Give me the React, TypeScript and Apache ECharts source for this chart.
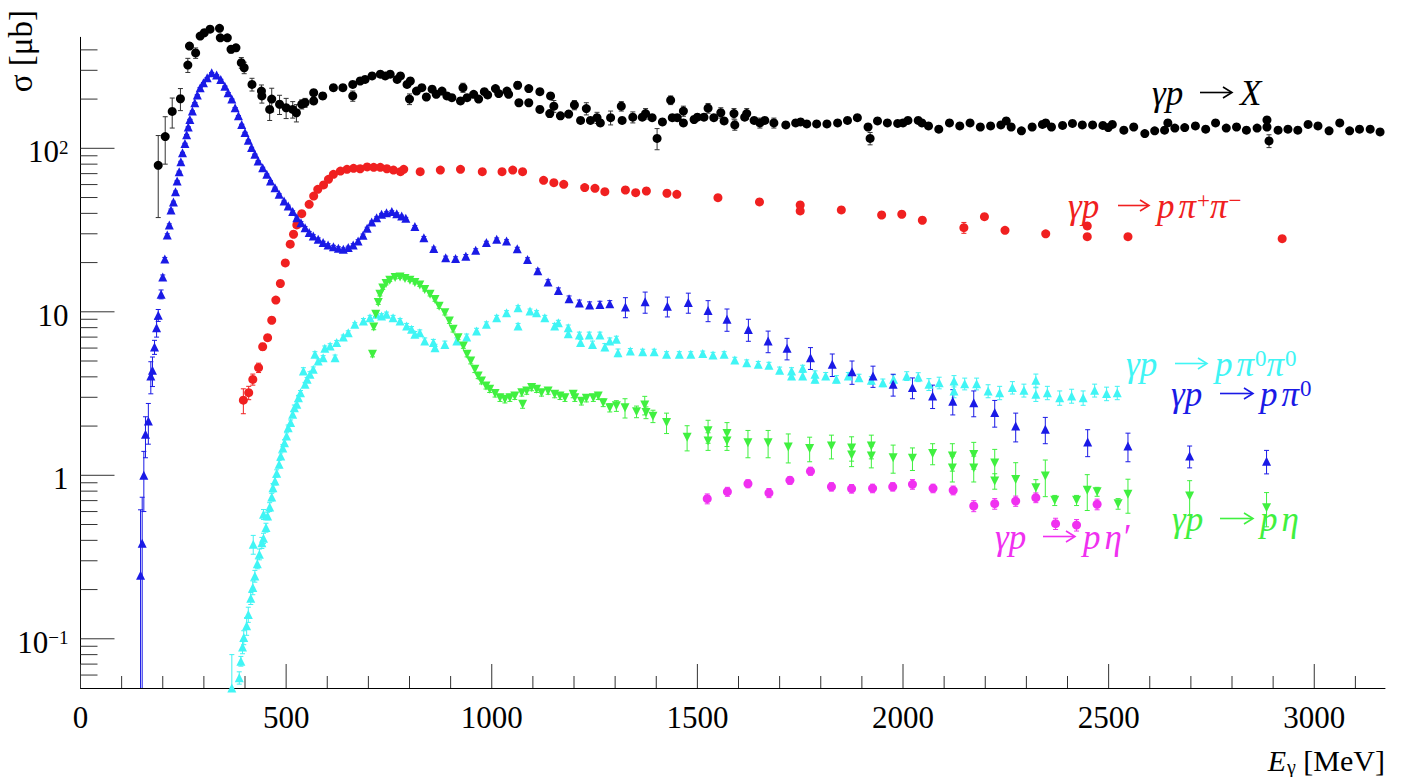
import React, { useEffect, useRef } from 'react';
import * as echarts from 'echarts';

// ---------- axis ranges & ticks ----------
const X_MIN = 0;
const X_MAX = 3172;
const Y_MIN = 0.05;
const Y_MAX = 650;
const Y_AXIS_TOP = 480;

const xMajorTicks = [0, 500, 1000, 1500, 2000, 2500, 3000];
const xMinorTicks = [100, 200, 300, 400, 600, 700, 800, 900, 1100, 1200, 1300, 1400, 1600, 1700, 1800, 1900, 2100, 2200, 2300, 2400, 2600, 2700, 2800, 2900, 3100];
const yMajorTicks = [0.1, 1, 10, 100];
const yMinorTicks = [0.06, 0.07, 0.08, 0.09, 0.2, 0.3, 0.4, 0.5, 0.6, 0.7, 0.8, 0.9, 2, 3, 4, 5, 6, 7, 8, 9, 20, 30, 40, 50, 60, 70, 80, 90, 200, 300, 400];
const yLabelValues = [0.1, 1, 10, 100];
const yLabelBase = ['10', '1', '10', '10'];
const yLabelSup = ['−1', '', '', '2'];

// ---------- data: [E_gamma (MeV), sigma (µb), error (µb)] ----------
const totalX = [
  [189, 78.7, 41], [206, 118, 38], [223, 168, 35], [243, 201, 31], [261, 323, 32], [265, 422, 20], [280, 383, 28], [291, 486, 15], [301, 509, 15], [315, 535, 15], [338, 542, 15], [340, 474, 15], [357, 474, 18], [366, 403, 20], [378, 412, 20], [391, 334, 25], [398, 311, 25], [417, 246, 22], [440, 224, 20], [441, 209, 20], [460, 173, 25], [465, 200, 33], [484, 186, 25], [500, 177, 25], [516, 173, 20], [525, 165, 20], [538, 186, 12], [546, 190, 12], [567, 219, 10], [567, 195, 10], [589, 209, 10], [615, 235, 10], [638, 235, 10], [662, 246, 10], [662, 209, 15], [680, 258, 8], [692, 264, 8], [709, 277, 8], [729, 284, 8], [741, 277, 8], [753, 284, 8], [770, 264, 8], [778, 277, 8], [794, 246, 8], [802, 258, 8], [800, 200, 15], [817, 224, 8], [830, 235, 8], [841, 206, 8], [855, 230, 8], [865, 214, 8], [879, 224, 8], [891, 209, 8], [903, 204, 8], [924, 195, 8], [930, 235, 15], [940, 204, 8], [956, 214, 8], [968, 200, 8],
  [982, 222, 8], [990, 212, 8], [1009, 232, 8], [1017, 216, 8], [1037, 224, 8], [1041, 214, 8], [1063, 243, 12], [1066, 190, 8], [1090, 232, 10], [1090, 190, 8], [1117, 222, 8], [1117, 173, 8], [1143, 209, 8], [1141, 163, 8], [1151, 181, 15], [1167, 158, 8], [1187, 162, 8], [1201, 184, 12], [1216, 148, 6], [1230, 175, 15], [1240, 148, 6], [1256, 154, 12], [1264, 143, 6], [1289, 154, 15], [1315, 181, 12], [1317, 148, 6], [1343, 155, 12], [1366, 155, 6], [1374, 163, 12], [1390, 154, 6], [1402, 115, 17], [1415, 145, 6], [1435, 197, 12], [1439, 154, 6], [1451, 154, 6], [1466, 169, 12], [1466, 143, 6], [1492, 150, 6], [1500, 155, 6], [1516, 155, 6], [1526, 176, 12], [1540, 154, 6], [1557, 165, 12], [1565, 147, 6], [1589, 163, 12], [1591, 139, 10], [1615, 155, 6], [1620, 163, 12], [1638, 148, 6], [1652, 143, 10], [1664, 148, 6], [1686, 143, 10], [1715, 139, 5], [1739, 143, 5], [1751, 145, 5], [1766, 141, 5], [1790, 141, 5], [1815, 141, 5], [1841, 143, 5], [1865, 148, 5], [1889, 154, 5], [1915, 135, 5], [1920, 115, 10], [1938, 147, 5],
  [1962, 143, 4], [1987, 142, 4], [2000, 143, 4], [2012, 148, 4], [2037, 148, 4], [2046, 143, 4], [2062, 137, 4], [2087, 131, 4], [2113, 143, 4], [2138, 137, 4], [2163, 143, 4], [2188, 135, 4], [2213, 137, 4], [2238, 139, 4], [2251, 147, 4], [2263, 135, 4], [2288, 128, 4], [2314, 135, 4], [2339, 140, 4], [2347, 143, 4],
  [2361, 135, 4], [2388, 138, 4], [2412, 142, 4], [2436, 139, 4], [2461, 139, 4], [2486, 138, 4], [2499, 134, 4], [2509, 140, 4], [2537, 129, 4], [2561, 135, 4], [2588, 123, 4], [2612, 128, 4], [2636, 129, 4], [2644, 143, 4], [2661, 133, 4], [2685, 134, 4], [2711, 137, 4], [2736, 131, 4], [2760, 143, 4], [2786, 133, 4], [2811, 135, 4], [2835, 129, 4], [2861, 133, 4], [2885, 149, 4], [2885, 135, 4], [2890, 111, 10], [2912, 129, 4], [2936, 131, 4], [2960, 129, 4], [2985, 140, 4], [3009, 137, 4], [3036, 128, 4], [3062, 143, 4], [3086, 128, 4], [3110, 131, 4], [3136, 131, 4], [3160, 126, 4],
];

const pPiPlusPiMinus = [
  [396, 2.88, 0.5], [409, 3.2, 0.3], [419, 3.86, 0.3], [433, 4.55, 0.3], [443, 6.12, 0.3], [455, 6.95, 0.3], [465, 8.88, 0.3], [475, 11.8, 0.4], [486, 14.9, 0.5], [498, 19.9, 0.5], [510, 25.9, 0.6], [518, 29.8, 0.6], [526, 34.0, 0.7], [538, 39.8, 0.8], [556, 45.4, 0.8], [567, 51.0, 0.9], [577, 56.1, 1], [591, 59.7, 1], [603, 64.6, 1], [615, 69.3, 1], [632, 72.6, 1], [648, 74.4, 1], [664, 75.4, 1], [680, 75, 1], [697, 76.9, 1], [713, 76.5, 1], [729, 76.5, 1], [745, 75, 1], [761, 73.6, 1], [778, 72, 1], [786, 74.4, 1], [826, 72, 1], [875, 73.6, 1], [924, 74.4, 1], [977, 72, 1], [1025, 72, 1], [1051, 73.6, 1], [1075, 72, 1], [1126, 63.7, 1], [1151, 61.6, 1], [1175, 60.2, 1], [1226, 57.5, 1], [1251, 56.9, 1], [1275, 54.3, 1], [1325, 55.6, 1], [1350, 53.5, 1], [1376, 54.8, 1], [1426, 53.1, 1], [1450, 52.3, 1], [1550, 49.9, 1], [1651, 47.0, 1], [1750, 45.0, 1], [1750, 41.4, 1], [1850, 42.0, 1], [1948, 39.1, 1], [1997, 39.5, 1], [2047, 36.3, 1], [2148, 32.7, 2.5], [2198, 38.2, 1.5], [2248, 31.5, 1], [2347, 30.0, 1], [2448, 33.5, 1.5], [2448, 28.8, 1], [2547, 28.8, 1], [2922, 28.0, 1],
];

const pPi0 = [
  [146, 0.245, 0.37], [150, 0.384, 0.35], [154, 1.0, 0.4], [158, 1.78, 0.5], [165, 2.15, 0.6], [171, 4.05, 0.9], [175, 4.39, 0.9], [180, 6.09, 0.6], [185, 8.0, 1.0], [189, 9.53, 0.8], [196, 12.8, 0.8], [200, 16.3, 0.5], [205, 21.0, 0.5], [211, 29.5, 0.5], [216, 34.0, 0.5], [220, 42.0, 0.5], [226, 47.0, 0.5], [231, 54.3, 0.5], [235, 63.1, 0.5], [240, 72, 0.5], [244, 82.8, 0.5], [248, 94, 0.5], [254, 107, 0.5], [258, 121, 0.5], [262, 135, 0.5], [266, 150, 0.5], [272, 169, 0.5], [278, 190, 0.5], [284, 212, 0.5], [291, 235, 0.5], [299, 252, 0.5], [308, 270, 0.5], [319, 290, 0.5], [331, 281, 0.5], [341, 264, 0.5], [351, 240, 0.5], [359, 219, 0.5], [368, 200, 0.5], [376, 177, 0.5], [384, 158, 0.5], [392, 140, 0.5], [400, 125, 0.5], [408, 112, 0.5], [416, 101, 0.5], [424, 91.9, 0.5], [432, 83.6, 0.5], [443, 76.1, 0.5], [453, 69.3, 0.5], [462, 63.1, 0.5], [473, 57.4, 0.5], [483, 52.3, 0.5], [495, 47.6, 0.5], [505, 44.4, 0.5], [516, 41, 0.5], [526, 37.6, 0.5], [536, 35.1, 0.5], [546, 32.7, 0.5], [556, 30.5, 0.5], [566, 29.1, 0.5], [578, 27.8, 0.5], [590, 26.5, 0.5], [602, 25.6, 0.5], [615, 25.0, 0.5], [627, 24.5, 0.5], [639, 24.1, 0.5], [651, 24.7, 0.5], [663, 25.6, 0.5], [675, 27.1, 0.5], [687, 29.4, 0.5], [697, 32.4, 0.5], [708, 35.4, 0.5], [720, 37.6, 0.5], [732, 39.5, 0.5], [744, 40.4, 0.5], [757, 41, 0.5], [769, 39.8, 0.5], [781, 38.5, 0.5], [791, 37.3, 0.5], [813, 33.2, 0.5], [835, 28.4, 0.5], [859, 24.4, 0.5], [888, 21.4, 0.5], [912, 21.2, 0.5], [937, 21.9, 0.5], [961, 23.8, 0.5], [987, 26.5, 0.5], [1012, 27.8, 0.5], [1036, 27.1, 0.5], [1062, 24.3, 0.5], [1087, 20.9, 0.5], [1112, 17.8, 0.5], [1137, 15.2, 0.5], [1162, 13.5, 0.5], [1188, 12.0, 0.5], [1213, 11.3, 0.5], [1238, 11.0, 0.5], [1263, 11.1, 0.5], [1287, 11.2, 0.5], [1325, 10.7, 1.5], [1373, 11.5, 1.7], [1427, 10.8, 1.5], [1478, 11.4, 1.6], [1526, 10.2, 1.5], [1572, 9.0, 1.4], [1624, 7.8, 1.2], [1672, 6.62, 1.0], [1718, 5.98, 0.9], [1775, 5.24, 0.8], [1828, 4.77, 0.75], [1876, 4.3, 0.7], [1927, 4.05, 0.6], [1976, 3.6, 0.55], [2023, 3.44, 0.5], [2072, 3.06, 0.5], [2121, 2.84, 0.5], [2172, 2.78, 0.5], [2223, 2.42, 0.45], [2274, 2.0, 0.4], [2346, 1.91, 0.35], [2449, 1.6, 0.3], [2547, 1.51, 0.3], [2697, 1.31, 0.2], [2884, 1.22, 0.2],
];

const pPi0Pi0 = [
  [368, 0.05, 0.03], [386, 0.0578, 0.005], [390, 0.073, 0.005], [394, 0.089, 0.008], [397, 0.102, 0.01], [404, 0.12, 0.015], [408, 0.141, 0.015], [414, 0.177, 0.015], [419, 0.206, 0.02], [420, 0.379, 0.05], [424, 0.242, 0.02], [430, 0.288, 0.02], [435, 0.329, 0.025], [441, 0.387, 0.03], [445, 0.412, 0.03], [445, 0.577, 0.04], [451, 0.479, 0.03], [455, 0.564, 0.03], [460, 0.64, 0.04], [465, 0.736, 0.04], [468, 0.84, 0.05], [473, 0.922, 0.05], [477, 1.03, 0.05], [483, 1.17, 0.06], [487, 1.31, 0.06], [492, 1.47, 0.07], [496, 1.58, 0.07], [501, 1.74, 0.08], [505, 1.95, 0.08], [511, 2.1, 0.08], [516, 2.36, 0.1], [520, 2.59, 0.1], [526, 2.72, 0.1], [530, 2.98, 0.1], [535, 3.2, 0.1], [542, 4.35, 0.2], [546, 3.6, 0.1], [551, 3.87, 0.1], [558, 4.15, 0.15], [566, 4.45, 0.15], [570, 5.5, 0.2], [578, 5.0, 0.15], [590, 5.24, 0.15], [594, 5.98, 0.2], [607, 6.18, 0.2], [619, 5.24, 0.2], [623, 6.48, 0.2], [639, 7.01, 0.2], [651, 7.45, 0.2], [667, 8.38, 0.2], [688, 8.79, 0.3], [704, 9.21, 0.3], [720, 9.66, 0.3], [732, 9.43, 0.3], [744, 9.66, 0.3], [760, 9.21, 0.3], [777, 8.79, 0.3], [793, 8.19, 0.3], [805, 7.82, 0.3], [813, 7.28, 0.3], [825, 7.45, 0.3], [837, 6.62, 0.3], [858, 6.48, 0.3], [862, 6.03, 0.3], [886, 6.32, 0.3], [915, 6.62, 0.3], [939, 7.01, 0.3], [963, 7.63, 0.3], [987, 8.38, 0.3], [1012, 9.21, 0.3], [1036, 9.86, 0.3], [1064, 10.6, 0.3], [1064, 8.19, 0.3], [1093, 10.1, 0.3], [1109, 9.86, 0.3], [1129, 9.21, 0.3], [1153, 8.19, 0.3], [1162, 8.57, 0.3], [1186, 8.0, 0.3], [1186, 7.35, 0.3], [1213, 7.21, 0.3], [1216, 6.48, 0.3], [1237, 7.21, 0.3], [1245, 6.32, 0.3], [1263, 7.21, 0.3], [1275, 6.09, 0.3], [1287, 6.62, 0.3], [1303, 6.79, 0.3], [1307, 5.62, 0.3], [1337, 5.76, 0.2], [1367, 5.7, 0.2], [1395, 5.7, 0.2], [1425, 5.5, 0.2], [1456, 5.5, 0.2], [1484, 5.5, 0.2], [1513, 5.55, 0.2], [1538, 5.45, 0.2], [1565, 5.5, 0.2], [1591, 5.07, 0.2], [1620, 4.88, 0.2], [1648, 4.77, 0.2], [1674, 4.71, 0.2], [1700, 4.39, 0.2], [1729, 4.35, 0.2], [1729, 4.05, 0.2], [1756, 4.51, 0.2], [1756, 4.05, 0.2], [1786, 4.15, 0.2], [1786, 3.87, 0.2], [1812, 4.05, 0.2], [1838, 3.87, 0.2], [1867, 4.05, 0.2], [1893, 3.95, 0.2], [1923, 3.81, 0.2], [1951, 3.68, 0.2], [1977, 3.87, 0.25], [2009, 4.05, 0.25], [2037, 3.99, 0.25], [2063, 3.6, 0.3], [2088, 3.68, 0.3], [2124, 3.77, 0.3], [2124, 3.28, 0.3], [2150, 3.63, 0.3], [2179, 3.63, 0.3], [2207, 3.28, 0.3], [2235, 3.2, 0.3], [2266, 3.44, 0.3], [2294, 3.31, 0.3], [2323, 3.81, 0.35], [2323, 3.13, 0.3], [2351, 3.2, 0.3], [2381, 2.98, 0.3], [2410, 3.06, 0.3], [2438, 2.98, 0.3], [2466, 3.31, 0.3], [2495, 3.16, 0.3], [2521, 3.2, 0.3],
];

const pEta = [
  [710, 5.5, 0.2], [713, 8.07, 0.3], [718, 9.66, 0.3], [724, 11.4, 0.3], [728, 12.8, 0.3], [735, 14.0, 0.3], [743, 14.9, 0.3], [752, 15.6, 0.3], [765, 16.2, 0.3], [777, 16.3, 0.3], [789, 16.0, 0.3], [801, 15.6, 0.3], [813, 15.1, 0.3], [825, 14.6, 0.3], [837, 13.7, 0.3], [850, 12.8, 0.3], [862, 11.9, 0.3], [872, 10.8, 0.3], [886, 9.86, 0.3], [897, 8.79, 0.3], [906, 7.82, 0.3], [918, 6.95, 0.2], [931, 6.18, 0.2], [940, 5.5, 0.2], [949, 5.0, 0.2], [959, 4.45, 0.2], [967, 4.05, 0.15], [975, 3.77, 0.15], [986, 3.52, 0.15], [995, 3.36, 0.15], [1008, 3.16, 0.15], [1020, 2.98, 0.15], [1032, 2.92, 0.15], [1044, 2.98, 0.15], [1056, 3.06, 0.15], [1073, 3.2, 0.15], [1075, 2.72, 0.15], [1085, 3.28, 0.15], [1097, 3.44, 0.15], [1109, 3.36, 0.15], [1121, 3.2, 0.15], [1137, 3.28, 0.15], [1153, 3.13, 0.15], [1166, 3.06, 0.15], [1178, 2.98, 0.15], [1198, 3.13, 0.15], [1202, 2.98, 0.15], [1218, 2.84, 0.15], [1230, 2.96, 0.15], [1247, 2.98, 0.15], [1259, 3.06, 0.15], [1271, 2.78, 0.15], [1287, 2.59, 0.15], [1303, 2.66, 0.2], [1324, 2.59, 0.35], [1352, 2.45, 0.2], [1372, 2.69, 0.35], [1375, 2.42, 0.2], [1392, 2.3, 0.2], [1425, 2.1, 0.3], [1475, 1.71, 0.3], [1526, 1.87, 0.3], [1526, 1.62, 0.2], [1572, 1.8, 0.3], [1572, 1.62, 0.2], [1623, 1.58, 0.3], [1672, 1.58, 0.3], [1721, 1.49, 0.3], [1773, 1.46, 0.25], [1826, 1.51, 0.25], [1875, 1.47, 0.25], [1875, 1.33, 0.2], [1923, 1.51, 0.25], [1923, 1.31, 0.2], [1976, 1.28, 0.25], [2023, 1.27, 0.2], [2072, 1.36, 0.2], [2120, 1.31, 0.25], [2120, 1.11, 0.2], [2172, 1.34, 0.25], [2172, 1.11, 0.2], [2223, 1.19, 0.25], [2223, 0.922, 0.1], [2274, 0.944, 0.25], [2323, 0.84, 0.1], [2346, 0.99, 0.25], [2369, 0.703, 0.05], [2422, 0.703, 0.05], [2448, 0.809, 0.2], [2472, 0.794, 0.05], [2523, 0.67, 0.05], [2547, 0.766, 0.18], [2697, 0.747, 0.18], [2884, 0.634, 0.15],
];

const pEtaPrime = [
  [1524, 0.719, 0.05], [1573, 0.794, 0.05], [1623, 0.889, 0.05], [1674, 0.78, 0.05], [1725, 0.931, 0.05], [1775, 1.06, 0.06], [1826, 0.851, 0.05], [1875, 0.828, 0.05], [1926, 0.832, 0.05], [1975, 0.851, 0.05], [2023, 0.881, 0.06], [2073, 0.832, 0.05], [2122, 0.809, 0.05], [2172, 0.649, 0.05], [2223, 0.67, 0.05], [2274, 0.696, 0.05], [2323, 0.73, 0.05], [2371, 0.506, 0.04], [2422, 0.496, 0.04], [2472, 0.665, 0.05],
];

const SERIF = "'Liberation Serif', 'Times New Roman', serif";

function errorSeries(data: number[][], color: string) {
  return {
    type: 'custom',
    data,
    silent: true,
    clip: true,
    encode: { x: 0, y: 1 },
    renderItem: (_p: any, api: any) => {
      const x = api.value(0);
      const y = api.value(1);
      const e = api.value(2);
      if (!e) return null;
      const top = api.coord([x, Math.min(y + e, Y_MAX)]);
      const low = y - e;
      const clamped = low <= Y_MIN;
      const bot = api.coord([x, clamped ? Y_MIN : low]);
      const cw = 2.5;
      const st = { stroke: color, lineWidth: 1 };
      const children: any[] = [
        { type: 'line', shape: { x1: top[0], y1: top[1], x2: bot[0], y2: bot[1] }, style: st },
        { type: 'line', shape: { x1: top[0] - cw, y1: top[1], x2: top[0] + cw, y2: top[1] }, style: st },
      ];
      if (!clamped) children.push({ type: 'line', shape: { x1: bot[0] - cw, y1: bot[1], x2: bot[0] + cw, y2: bot[1] }, style: st });
      return { type: 'group', children };
    },
  };
}

function markerSeries(data: number[][], color: string, symbol: string, rotate: number, size: number) {
  return {
    type: 'scatter',
    data: data.map((d) => [d[0], d[1]]),
    symbol,
    symbolRotate: rotate,
    symbolSize: size,
    itemStyle: { color, opacity: 1 },
    silent: true,
  };
}

// reaction label: "γp", drawn arrow, then rich remainder (m = italic, g = italic with small gap, s = superscript)
function reactionLabel(x: number, a1: number, a2: number, xr: number, baseline: number, color: string, parts: [string, string][]) {
  const FS = 35;
  const LH = 52;
  const yc = baseline - 0.3375 * FS;
  const ay = baseline - 12.5;
  const text = parts.map(([k, t]) => `{${k}|${t}}`).join('');
  const st = { stroke: color, lineWidth: 1.6, fill: 'none' };
  return {
    type: 'group',
    silent: true,
    children: [
      {
        type: 'text',
        x,
        y: yc,
        style: { text: 'γp', fill: color, font: `italic ${FS}px ${SERIF}`, align: 'left', verticalAlign: 'middle' },
      },
      { type: 'line', shape: { x1: a1, y1: ay, x2: a2 - 1, y2: ay }, style: st },
      { type: 'polyline', shape: { points: [[a2 - 9, ay - 5.5], [a2, ay], [a2 - 9, ay + 5.5]] }, style: st },
      {
        type: 'text',
        x: xr,
        y: yc,
        style: {
          text,
          fill: color,
          align: 'left',
          verticalAlign: 'middle',
          rich: {
            m: { fontFamily: SERIF, fontStyle: 'italic', fontSize: FS, fill: color, lineHeight: LH },
            g: { fontFamily: SERIF, fontStyle: 'italic', fontSize: FS, fill: color, lineHeight: LH, padding: [0, 0, 0, 4] },
            s: { fontFamily: SERIF, fontStyle: 'normal', fontSize: 23, fill: color, lineHeight: LH, padding: [0, 0, 11, 1] },
          },
        },
      },
    ],
  };
}

export default function App() {
  const ref = useRef<HTMLDivElement>(null);
  useEffect(() => {
    if (!ref.current) return;
    const chart = echarts.init(ref.current, undefined, { renderer: 'svg' });

    const xTickData = [...xMajorTicks.map((v) => [v, Y_MIN, 1]), ...xMinorTicks.map((v) => [v, Y_MIN, 0])];
    const yTickData = [...yMajorTicks.map((v) => [X_MIN, v, 1]), ...yMinorTicks.map((v) => [X_MIN, v, 0])];
    const yLabelData = yLabelValues.map((v, i) => [X_MIN, v, i]);

    const option: any = {
      animation: false,
      grid: { left: 80.5, right: 17, top: 15.4, bottom: 89, containLabel: false },
      xAxis: {
        type: 'value',
        min: X_MIN,
        max: X_MAX,
        interval: 500,
        axisLine: { show: true, onZero: false, lineStyle: { color: '#000', width: 1 } },
        axisTick: { show: false },
        splitLine: { show: false },
        axisLabel: {
          formatter: (v: number) => (v % 500 === 0 ? String(v) : ''),
          showMaxLabel: false,
          fontFamily: SERIF,
          fontSize: 31,
          color: '#000',
          margin: 14,
        },
      },
      yAxis: {
        type: 'log',
        logBase: 10,
        min: Y_MIN,
        max: Y_MAX,
        axisLine: { show: false },
        axisTick: { show: false },
        splitLine: { show: false },
        axisLabel: { show: false },
      },
      series: [
        {
          type: 'custom',
          data: [[X_MIN, Y_AXIS_TOP]],
          silent: true,
          clip: false,
          encode: { x: 0, y: 1 },
          renderItem: (_p: any, api: any) => {
            const a = api.coord([X_MIN, Y_MIN]);
            const b = api.coord([X_MIN, api.value(1)]);
            return { type: 'line', shape: { x1: a[0], y1: a[1], x2: b[0], y2: b[1] }, style: { stroke: '#000', lineWidth: 1 } };
          },
        },
        {
          type: 'custom',
          data: xTickData,
          silent: true,
          clip: false,
          encode: { x: 0, y: 1 },
          renderItem: (_p: any, api: any) => {
            const c = api.coord([api.value(0), Y_MIN]);
            const len = api.value(2) ? 24 : 12;
            return { type: 'line', shape: { x1: c[0], y1: c[1], x2: c[0], y2: c[1] - len }, style: { stroke: '#333', lineWidth: 1 } };
          },
        },
        {
          type: 'custom',
          data: yTickData,
          silent: true,
          clip: false,
          encode: { x: 0, y: 1 },
          renderItem: (_p: any, api: any) => {
            const c = api.coord([X_MIN, api.value(1)]);
            const len = api.value(2) ? 34 : 17;
            return { type: 'line', shape: { x1: c[0], y1: c[1], x2: c[0] + len, y2: c[1] }, style: { stroke: '#333', lineWidth: 1 } };
          },
        },
        {
          type: 'custom',
          data: yLabelData,
          silent: true,
          clip: false,
          encode: { x: 0, y: 1 },
          renderItem: (_p: any, api: any) => {
            const c = api.coord([X_MIN, api.value(1)]);
            const i = api.value(2);
            const sup = yLabelSup[i];
            const text = sup ? `{b|${yLabelBase[i]}}{s|${sup}}` : `{b|${yLabelBase[i]}}`;
            return {
              type: 'text',
              x: c[0] - 12,
              y: c[1] + 3.5,
              style: {
                text,
                align: 'right',
                verticalAlign: 'middle',
                fill: '#000',
                rich: {
                  b: { fontFamily: SERIF, fontSize: 31, fill: '#000', lineHeight: 40 },
                  s: { fontFamily: SERIF, fontSize: 19, fill: '#000', lineHeight: 40, padding: [0, 0, 9, 0] },
                },
              },
            };
          },
        },
        errorSeries(totalX, '#333'),
        markerSeries(totalX, '#000', 'circle', 0, 9),
        errorSeries(pPiPlusPiMinus, '#f02020'),
        markerSeries(pPiPlusPiMinus, '#f02020', 'circle', 0, 9),
        errorSeries(pPi0Pi0, '#3ef2f2'),
        markerSeries(pPi0Pi0, '#40f5f5', 'triangle', 0, 9),
        errorSeries(pPi0, '#1a1ae6'),
        markerSeries(pPi0, '#1a1ae6', 'triangle', 0, 9),
        errorSeries(pEta, '#3ef03e'),
        markerSeries(pEta, '#40f040', 'triangle', 180, 9),
        errorSeries(pEtaPrime, '#f030f0'),
        markerSeries(pEtaPrime, '#f030f0', 'circle', 0, 9),
      ],
      graphic: [
        {
          type: 'text',
          x: 21,
          y: 10,
          rotation: Math.PI / 2,
          silent: true,
          style: { text: 'σ [μb]', fill: '#000', font: `33px ${SERIF}`, align: 'right', verticalAlign: 'middle' },
        },
        {
          type: 'text',
          x: 1385,
          y: 760,
          silent: true,
          style: {
            text: '{i|E}{s|γ}{r| [MeV]}',
            fill: '#000',
            align: 'right',
            verticalAlign: 'middle',
            rich: {
              i: { fontFamily: SERIF, fontStyle: 'italic', fontSize: 30, fill: '#000', lineHeight: 44 },
              s: { fontFamily: SERIF, fontSize: 20, fill: '#000', lineHeight: 44, padding: [14, 0, 0, 1] },
              r: { fontFamily: SERIF, fontSize: 30, fill: '#000', lineHeight: 44 },
            },
          },
        },
        reactionLabel(1152, 1200, 1232, 1240, 105, '#000', [['m', 'X']]),
        reactionLabel(1068, 1118, 1149, 1157, 218, '#f02020', [['m', 'p'], ['g', 'π'], ['s', '+'], ['m', 'π'], ['s', '−']]),
        reactionLabel(1126, 1175, 1207, 1215, 376, '#40f5f5', [['m', 'p'], ['g', 'π'], ['s', '0'], ['m', 'π'], ['s', '0']]),
        reactionLabel(1171, 1220, 1253, 1260, 406, '#1a1ae6', [['m', 'p'], ['g', 'π'], ['s', '0']]),
        reactionLabel(1172, 1220, 1253, 1260, 531, '#40f040', [['m', 'p'], ['g', 'η']]),
        reactionLabel(995, 1043, 1075, 1083, 549, '#f030f0', [['m', 'p'], ['g', 'η′']]),
      ],
    };
    chart.setOption(option);
    return () => chart.dispose();
  }, []);
  return <div ref={ref} style={{ position: 'fixed', left: 0, top: 0, width: 1402, height: 777, background: '#fff' }} />;
}
